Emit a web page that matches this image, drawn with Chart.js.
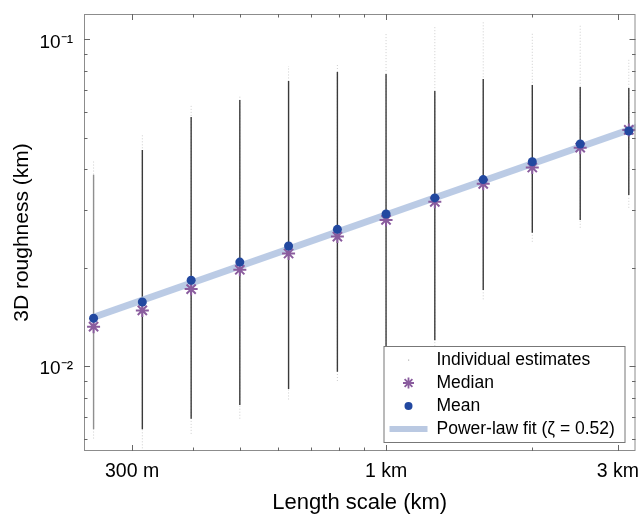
<!DOCTYPE html>
<html>
<head>
<meta charset="utf-8">
<script src="https://cdn.jsdelivr.net/npm/chart.js@4/dist/chart.umd.min.js"></script>
<style>
  html, body { margin: 0; padding: 0; background: #fff; }
  #wrap { width: 644px; height: 517px; }
</style>
</head>
<body>
<div id="wrap"><canvas id="roughChart" width="644" height="517"></canvas></div>
<script>
// Length scale of each bin (km)
const lengthScales = [0.25, 0.315, 0.397, 0.5, 0.63, 0.794, 1.0, 1.26, 1.585, 2.0, 2.51, 3.16];

// Mean and median roughness per bin (km)
const meanRough   = [0.0140, 0.0157, 0.0183, 0.0208, 0.0233, 0.0262, 0.0292, 0.0327, 0.0372, 0.0422, 0.0478, 0.0524];
const medianRough = [0.0132, 0.0148, 0.0172, 0.0197, 0.0221, 0.0249, 0.0280, 0.0318, 0.0361, 0.0405, 0.0466, 0.0528];

// Spread of the individual estimates: dense core and sparse outliers
const denseLow   = [0.0064, 0.0064, 0.0069, 0.0076, 0.0085, 0.0096, 0.0110, 0.0120, 0.0171, 0.0256, 0.0280, 0.0334];
const denseHigh  = [0.0385, 0.0458, 0.0578, 0.0652, 0.0745, 0.0794, 0.0783, 0.0695, 0.0756, 0.0725, 0.0714, 0.0710];
const sparseLow  = [0.0060, 0.0056, 0.0062, 0.0069, 0.0079, 0.0090, 0.0105, 0.0115, 0.0160, 0.0240, 0.0265, 0.0305];
const sparseHigh = [0.0428, 0.0509, 0.0634, 0.0676, 0.0828, 0.0840, 0.1038, 0.1100, 0.1130, 0.1045, 0.1106, 0.0865];

// Power-law fit end points (zeta = 0.52)
const fitLength = [0.25, 3.3];
const fitRough  = [0.0141, 0.0540];

// Axis ticks
const xTicks = [0.3, 0.4, 0.5, 0.6, 0.7, 0.8, 0.9, 1, 2, 3];
const xLabels = ['300 m', '', '', '', '', '', '', '1 km', '', '3 km'];
const yTicks = [0.006, 0.007, 0.008, 0.009, 0.01, 0.02, 0.03, 0.04, 0.05, 0.06, 0.07, 0.08, 0.09, 0.1];
const yLabels = ['', '', '', '', '10\u207B\u00B2', '', '', '', '', '', '', '', '', '10\u207B\u00B9'];

const FONT = '"Liberation Sans", Arial, Helvetica, sans-serif';

// vertical segments per bin, separated by gaps
function binSegments(lo, hi) {
  const pts = [];
  lengthScales.forEach((L, i) => {
    pts.push({ x: L, y: lo[i] }, { x: L, y: hi[i] }, { x: L, y: null });
  });
  return pts;
}

function pairs(xs, ys) {
  return xs.map((x, i) => ({ x: x, y: ys[i] }));
}

// frame with inward ticks on all four sides
const frameTicks = {
  id: 'frameTicks',
  afterDatasetsDraw(chart) {
    const { ctx, chartArea: a, scales } = chart;
    ctx.save();
    ctx.strokeStyle = '#8c8c8c';
    ctx.lineWidth = 1;
    ctx.strokeRect(a.left + 0.5, a.top + 0.5, a.width - 1, a.height - 1);
    ctx.strokeStyle = '#666';
    ctx.beginPath();
    scales.x.ticks.forEach(t => {
      const px = Math.round(scales.x.getPixelForValue(t.value)) + 0.5;
      const len = t.label ? 6 : 3.5;
      ctx.moveTo(px, a.bottom); ctx.lineTo(px, a.bottom - len);
      ctx.moveTo(px, a.top); ctx.lineTo(px, a.top + len);
    });
    scales.y.ticks.forEach(t => {
      const py = Math.round(scales.y.getPixelForValue(t.value)) + 0.5;
      const len = t.label ? 6 : 3.5;
      ctx.moveTo(a.left, py); ctx.lineTo(a.left + len, py);
      ctx.moveTo(a.right, py); ctx.lineTo(a.right - len, py);
    });
    ctx.stroke();
    ctx.restore();
  }
};

// legend box in the lower right corner
const cornerLegend = {
  id: 'cornerLegend',
  afterDraw(chart) {
    const { ctx, chartArea: a } = chart;
    const right = a.right - 11, bottom = a.bottom - 9;
    const w = 241, h = 96;
    const left = right - w, top = bottom - h;
    ctx.save();
    ctx.fillStyle = '#fff';
    ctx.fillRect(left, top, w, h);
    ctx.strokeStyle = '#777';
    ctx.lineWidth = 1;
    ctx.strokeRect(left + 0.5, top + 0.5, w, h);

    const mx = left + 25, tx = left + 53;
    const rows = [top + 14, top + 37, top + 60, top + 83];

    // individual estimates: tiny gray dot
    ctx.fillStyle = 'rgba(0,0,0,0.3)';
    ctx.fillRect(mx - 0.5, rows[0] - 0.5, 1.2, 1.2);

    // median: asterisk
    ctx.strokeStyle = '#8a5c9e';
    ctx.lineWidth = 1.8;
    ctx.beginPath();
    for (let k = 0; k < 4; k++) {
      const ang = k * Math.PI / 4;
      const r = 5.5;
      ctx.moveTo(mx - r * Math.cos(ang), rows[1] - r * Math.sin(ang));
      ctx.lineTo(mx + r * Math.cos(ang), rows[1] + r * Math.sin(ang));
    }
    ctx.stroke();

    // mean: blue dot
    ctx.fillStyle = '#2248a0';
    ctx.beginPath();
    ctx.arc(mx, rows[2], 4, 0, Math.PI * 2);
    ctx.fill();

    // fit: thick light line
    ctx.strokeStyle = '#bac9e2';
    ctx.lineWidth = 6;
    ctx.beginPath();
    ctx.moveTo(left + 6, rows[3]);
    ctx.lineTo(left + 44, rows[3]);
    ctx.stroke();

    ctx.fillStyle = '#000';
    ctx.font = '17.5px ' + FONT;
    ctx.textBaseline = 'middle';
    ctx.textAlign = 'left';
    ctx.fillText('Individual estimates', tx, rows[0]);
    ctx.fillText('Median', tx, rows[1]);
    ctx.fillText('Mean', tx, rows[2]);
    ctx.fillText('Power-law fit (\u03B6 = 0.52)', tx, rows[3]);
    ctx.restore();
  }
};

const ctx = document.getElementById('roughChart').getContext('2d');
new Chart(ctx, {
  type: 'line',
  data: {
    datasets: [{
      label: 'Individual estimates (sparse)',
      data: binSegments(sparseLow, sparseHigh),
      borderColor: 'rgba(0,0,0,0.2)',
      borderWidth: 1,
      borderDash: [1, 2],
      pointRadius: 0,
      spanGaps: false,
      order: 5,
    }, {
      label: 'Individual estimates',
      data: binSegments(denseLow, denseHigh),
      borderColor: '#3a3a3a',
      borderWidth: 1.4,
      pointRadius: 0,
      spanGaps: false,
      segment: {
        borderColor: c => (c.p0.parsed.x < lengthScales[1] ? '#8f8f8f' : undefined),
      },
      order: 4,
    }, {
      label: 'Power-law fit',
      data: pairs(fitLength, fitRough),
      borderColor: 'rgba(180,197,226,0.9)',
      borderWidth: 7,
      pointRadius: 0,
      order: 3,
    }, {
      label: 'Median',
      data: pairs(lengthScales, medianRough),
      showLine: false,
      pointStyle: 'star',
      pointRadius: 6.5,
      borderColor: '#8a5c9e',
      backgroundColor: '#8a5c9e',
      pointBorderWidth: 2,
      order: 2,
    }, {
      label: 'Mean',
      data: pairs(lengthScales, meanRough),
      showLine: false,
      pointStyle: 'circle',
      pointRadius: 4.5,
      borderColor: '#2248a0',
      backgroundColor: '#2248a0',
      pointBorderWidth: 0,
      order: 1,
    }]
  },
  options: {
    responsive: false,
    animation: false,
    layout: { padding: { top: 14, right: 5, left: 0, bottom: 0 } },
    plugins: {
      legend: { display: false },
      tooltip: { enabled: false },
    },
    scales: {
      x: {
        type: 'logarithmic',
        min: 0.2389,
        max: 3.262,
        grid: { display: false },
        border: { display: false },
        afterBuildTicks: s => { s.ticks = xTicks.map(v => ({ value: v })); },
        ticks: {
          autoSkip: false,
          maxRotation: 0,
          padding: 1,
          color: '#000',
          font: { family: FONT, size: 19.5 },
          callback: v => xLabels[xTicks.indexOf(v)] || '',
        },
        title: {
          display: true,
          text: 'Length scale (km)',
          color: '#000',
          font: { family: FONT, size: 22 },
          padding: { top: 0, bottom: 1 },
        },
        afterFit: s => { s.height = 66; s.paddingLeft = 0; s.paddingRight = 0; },
      },
      y: {
        type: 'logarithmic',
        min: 0.005495,
        max: 0.1195,
        grid: { display: false },
        border: { display: false },
        afterBuildTicks: s => { s.ticks = yTicks.map(v => ({ value: v })); },
        ticks: {
          autoSkip: false,
          padding: 3,
          labelOffset: 3,
          color: '#000',
          font: { family: FONT, size: 19 },
          callback: v => yLabels[yTicks.indexOf(v)] || '',
        },
        title: {
          display: true,
          text: '3D roughness (km)',
          color: '#000',
          font: { family: FONT, size: 21 },
          padding: { top: 10, bottom: 0 },
        },
        afterFit: s => { s.width = 84; s.paddingTop = 0; s.paddingBottom = 0; },
      },
    },
  },
  plugins: [frameTicks, cornerLegend],
});
</script>
</body>
</html>
